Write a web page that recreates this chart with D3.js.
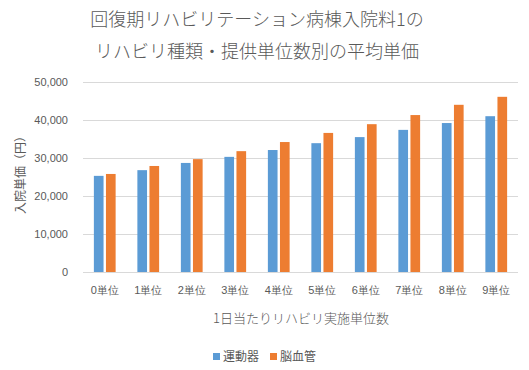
<!DOCTYPE html>
<html>
<head>
<meta charset="utf-8">
<script src="https://cdn.jsdelivr.net/npm/d3@7"></script>
<style>
  body { margin: 0; background: #fff; }
  svg { font-family: "Noto Sans CJK JP", "Noto Sans", sans-serif; }
  .axis text { fill: #595959; }
</style>
</head>
<body>
<script>
// data
var categories = ["0単位", "1単位", "2単位", "3単位", "4単位", "5単位", "6単位", "7単位", "8単位", "9単位"];
var seriesNames = ["運動器", "脳血管"];
var undouki = [25300, 26800, 28700, 30300, 32100, 33900, 35500, 37400, 39200, 41000];
var noukekkan = [25800, 27900, 29700, 31800, 34200, 36600, 38900, 41300, 44000, 46100];
var yTicks = [0, 10000, 20000, 30000, 40000, 50000];
var colours = ["#5B9BD5", "#ED7D31"];

var w = 529, h = 370;
var plotLeft = 83, plotRight = 518, plotTop = 82, plotBottom = 272;

var svg = d3.select("body").append("svg")
  .attr("width", w)
  .attr("height", h);

var rows = categories.map(function(c, i) {
  return { cat: c, values: [undouki[i], noukekkan[i]] };
});

var x0 = d3.scaleBand()
  .domain(categories)
  .range([plotLeft, plotRight])
  .paddingInner(0.5)
  .paddingOuter(0.25);

var x1 = d3.scaleBand()
  .domain(d3.range(seriesNames.length))
  .range([0, x0.bandwidth()])
  .paddingInner(0.2);

var y = d3.scaleLinear()
  .domain([0, 50000])
  .range([plotBottom, plotTop]);

// gridlines
svg.append("g")
  .selectAll("line")
  .data(yTicks)
  .enter().append("line")
  .attr("x1", plotLeft)
  .attr("x2", plotRight)
  .attr("y1", function(d) { return Math.round(y(d)) + 0.5; })
  .attr("y2", function(d) { return Math.round(y(d)) + 0.5; })
  .attr("stroke", "#D9D9D9")
  .attr("stroke-width", 1);

// y axis labels
var yAxis = d3.axisLeft(y)
  .tickValues(yTicks)
  .tickFormat(d3.format(","))
  .tickSize(0)
  .tickPadding(0);

var gy = svg.append("g")
  .attr("class", "axis")
  .attr("transform", "translate(68,0)")
  .call(yAxis);
gy.select(".domain").remove();
gy.selectAll("text").attr("font-size", "11px");

// bars
var groups = svg.append("g")
  .selectAll("g")
  .data(rows)
  .enter().append("g")
  .attr("transform", function(d) { return "translate(" + x0(d.cat) + ",0)"; });

groups.selectAll("rect")
  .data(function(d) { return d.values; })
  .enter().append("rect")
  .attr("x", function(d, i) { return x1(i); })
  .attr("width", x1.bandwidth())
  .attr("y", function(d) { return y(d); })
  .attr("height", function(d) { return plotBottom - y(d); })
  .attr("fill", function(d, i) { return colours[i]; });

// x axis labels
var xAxis = d3.axisBottom(x0)
  .tickSize(0)
  .tickPadding(14);

var gx = svg.append("g")
  .attr("class", "axis")
  .attr("transform", "translate(0," + plotBottom + ")")
  .call(xAxis);
gx.select(".domain").remove();
gx.selectAll("text").attr("font-size", "11px");

// titles
svg.append("text")
  .attr("x", 257).attr("y", 26)
  .attr("text-anchor", "middle")
  .attr("font-size", "18px")
  .attr("font-weight", 300)
  .attr("fill", "#595959")
  .text("回復期リハビリテーション病棟入院料1の");

svg.append("text")
  .attr("x", 257).attr("y", 58)
  .attr("text-anchor", "middle")
  .attr("font-size", "18px")
  .attr("font-weight", 300)
  .attr("fill", "#595959")
  .text("リハビリ種類・提供単位数別の平均単価");

svg.append("text")
  .attr("x", 301).attr("y", 323)
  .attr("text-anchor", "middle")
  .attr("font-size", "13px")
  .attr("font-weight", 300)
  .attr("fill", "#595959")
  .text("1日当たりリハビリ実施単位数");

svg.append("text")
  .attr("transform", "translate(25,172) rotate(-90)")
  .attr("text-anchor", "middle")
  .attr("font-size", "12px")
  .attr("fill", "#595959")
  .text("入院単価（円）");

// legend
var legendX = [213, 270];
var legend = svg.append("g")
  .selectAll("g")
  .data(seriesNames)
  .enter().append("g")
  .attr("transform", function(d, i) { return "translate(" + legendX[i] + ",353)"; });

legend.append("rect")
  .attr("width", 7)
  .attr("height", 7)
  .attr("fill", function(d, i) { return colours[i]; });

legend.append("text")
  .attr("x", 10)
  .attr("y", 8)
  .attr("font-size", "12px")
  .attr("fill", "#595959")
  .text(function(d) { return d; });
</script>
</body>
</html>
